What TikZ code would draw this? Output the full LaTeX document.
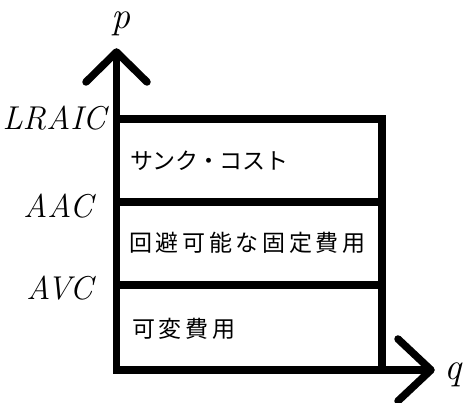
\documentclass[tikz,border=0pt]{standalone}
\usepackage{fontspec}
\newfontfamily\jpk[LetterSpace=16]{Noto Sans CJK JP}
\newfontfamily\jpc[LetterSpace=-2]{Noto Sans CJK JP}
\begin{document}
\begin{tikzpicture}[x=1pt,y=-1pt,
  axis/.style={line width=7.5pt,line cap=butt},
  tip/.style={line width=7.5pt,line cap=round,line join=round},
  boxline/.style={line width=7.5pt,line join=miter},
  lab/.style={inner sep=0pt,font=\fontsize{33}{38}\selectfont\itshape},
  biglab/.style={inner sep=0pt,font=\fontsize{38}{44}\selectfont\itshape},
  jtext/.style={inner sep=0pt,anchor=west,font=\fontsize{23}{27}\selectfont\jpk},
  jtextk/.style={inner sep=0pt,anchor=west,font=\fontsize{23}{27}\selectfont\jpc}]
\useasboundingbox (0,0) rectangle (464,403);
% coordinates
\coordinate (O) at (116.5,370);
\coordinate (ytop) at (116.5,52);
\coordinate (xend) at (431,370);
\coordinate (yl) at (86,82);
\coordinate (yr) at (147,82);
\coordinate (xu) at (398,339);
\coordinate (xd) at (398,401);
\coordinate (TL) at (116.5,119);
\coordinate (TR) at (382,119);
\coordinate (BR) at (382,370);
\coordinate (ML1) at (116.5,202);
\coordinate (MR1) at (382,202);
\coordinate (ML2) at (116.5,285);
\coordinate (MR2) at (382,285);
% box
\draw[boxline] (O) -- (TL) -- (TR) -- (BR) -- cycle;
\draw[axis] (ML1) -- (MR1);
\draw[axis] (ML2) -- (MR2);
% axes
\draw[axis] (O) -- (ytop);
\draw[axis] (O) -- (xend);
\draw[tip] (yl) -- (ytop) -- (yr);
\draw[tip] (xu) -- (xend) -- (xd);
% labels
\node[biglab] (p) at (121,24) {p};
\node[biglab] (q) at (453,375) {q};
\node[lab,anchor=east] (lraic) at (106,118) {LRAIC};
\node[lab,anchor=east] (aac) at (93,206) {AAC};
\node[lab,anchor=east] (avc) at (93,288) {AVC};
\node[jtextk] (sunk) at (130,161) {サンク・コスト};
\node[jtext] (avoid) at (129,243) {回避可能な固定費用};
\node[jtext] (var) at (132,329) {可変費用};
\end{tikzpicture}
\end{document}
